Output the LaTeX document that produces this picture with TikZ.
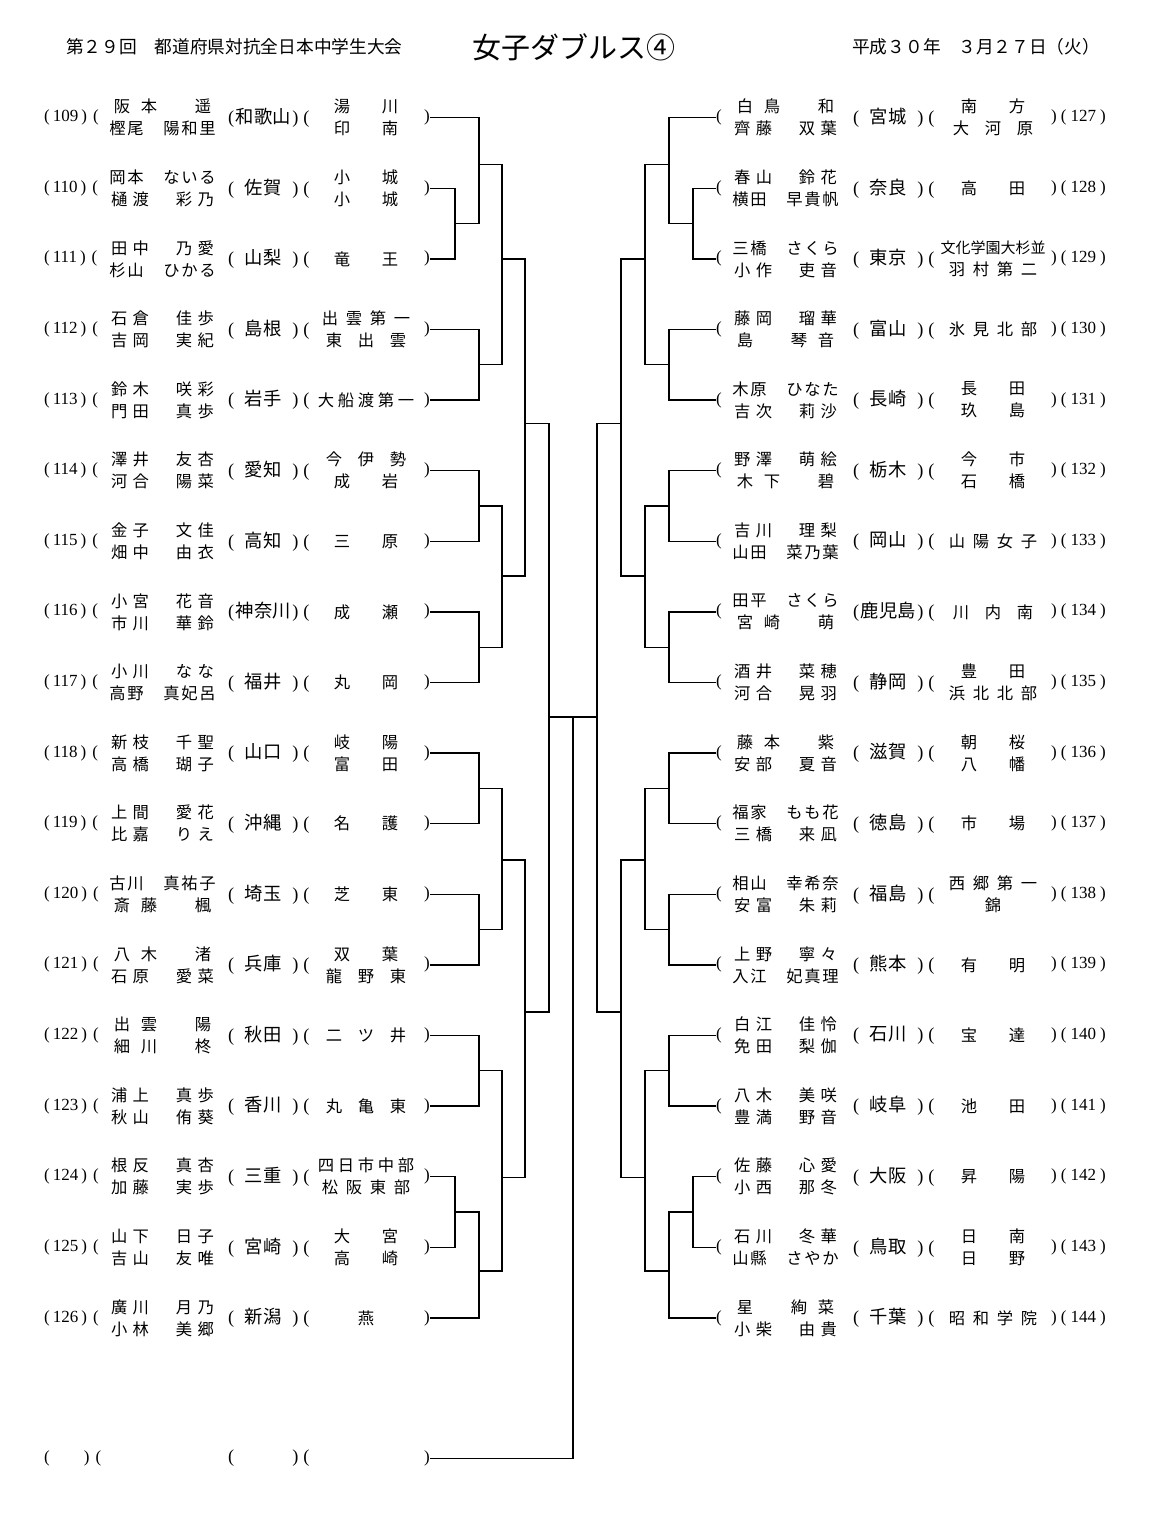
\documentclass[tikz,border=0pt]{standalone}
\usepackage{fontspec}
\usepackage{tikz}
\setmainfont{Liberation Serif}
\newfontfamily\jp{Noto Sans CJK JP}
\makeatletter
\newcommand{\kinto}[2]{\hbox to #1{\@tfor\kc:=#2\do{\hfil\kc\hfil}}}
\makeatother
\newcommand{\duo}[2]{\kinto{108pt}{#1}\\\kinto{108pt}{#2}}
\newcommand{\sch}[1]{\kinto{96pt}{#1}}
\newcommand{\schh}[2]{\kinto{96pt}{#1}\\\kinto{96pt}{#2}}
\newcommand{\ken}[1]{(\makebox[58pt]{\jp #1})\hspace{5pt}(}
\newcommand{\nol}[1]{(\hspace{3pt}#1\hspace{3pt})\hspace{6pt}(}
\newcommand{\nor}[1]{)\hspace{4pt}(\hspace{4pt}#1\hspace{4pt})}

\begin{document}
\begin{tikzpicture}[x=1pt, y=-1pt,
    num/.style={font=\fontsize{17}{17}\selectfont, inner sep=0pt, anchor=west},
    paren/.style={font=\fontsize{17}{17}\selectfont, inner sep=0pt},
    who/.style={font=\jp\fontsize{16.3}{22}\selectfont, align=center, inner sep=0pt},
    pref/.style={font=\fontsize{18.3}{18}\selectfont, inner sep=0pt},
    school/.style={font=\jp\fontsize{16.3}{22}\selectfont, align=center, inner sep=0pt},
    head/.style={font=\jp\fontsize{17.7}{18}\selectfont, inner sep=0pt, anchor=west},
    brk/.style={line width=1.3pt}]
  	\useasboundingbox (0,0) rectangle (1153,1538);
  	\draw (66,47) node[head] (hdr) {第２９回　都道府県対抗全日本中学生大会};
  	\draw (573.5,47) node[font=\jp\fontsize{29}{30}\selectfont, inner sep=0pt] (ttl) {女子ダブルス④};
  	\draw (852,47) node[head] (date) {平成３０年　３月２７日（火）};

  	\draw (44,117.7) node[num] (n109) {\nol{109}};
  	\draw (162.5,117.7) node[who] (w109) {\duo{阪本　遥}{樫尾　陽和里}};
  	\draw (268.8,117.7) node[pref] (f109) {\ken{和歌山}};
  	\draw (366,117.7) node[school] (s109) {\schh{湯川}{印南}};
  	\draw (427,117.7) node[paren] (c109) {)};

  	\draw (44,188.3) node[num] (n110) {\nol{110}};
  	\draw (162.5,188.3) node[who] (w110) {\duo{岡本　ないる}{樋渡　彩乃}};
  	\draw (268.8,188.3) node[pref] (f110) {\ken{佐賀}};
  	\draw (366,188.3) node[school] (s110) {\schh{小城}{小城}};
  	\draw (427,188.3) node[paren] (c110) {)};

  	\draw (44,258.9) node[num] (n111) {\nol{111}};
  	\draw (162.5,258.9) node[who] (w111) {\duo{田中　乃愛}{杉山　ひかる}};
  	\draw (268.8,258.9) node[pref] (f111) {\ken{山梨}};
  	\draw (366,258.9) node[school] (s111) {\sch{竜王}};
  	\draw (427,258.9) node[paren] (c111) {)};

  	\draw (44,329.5) node[num] (n112) {\nol{112}};
  	\draw (162.5,329.5) node[who] (w112) {\duo{石倉　佳歩}{吉岡　実紀}};
  	\draw (268.8,329.5) node[pref] (f112) {\ken{島根}};
  	\draw (366,329.5) node[school] (s112) {\schh{出雲第一}{東出雲}};
  	\draw (427,329.5) node[paren] (c112) {)};

  	\draw (44,400.1) node[num] (n113) {\nol{113}};
  	\draw (162.5,400.1) node[who] (w113) {\duo{鈴木　咲彩}{門田　真歩}};
  	\draw (268.8,400.1) node[pref] (f113) {\ken{岩手}};
  	\draw (366,400.1) node[school] (s113) {\kinto{100pt}{大船渡第一}};
  	\draw (427,400.1) node[paren] (c113) {)};

  	\draw (44,470.7) node[num] (n114) {\nol{114}};
  	\draw (162.5,470.7) node[who] (w114) {\duo{澤井　友杏}{河合　陽菜}};
  	\draw (268.8,470.7) node[pref] (f114) {\ken{愛知}};
  	\draw (366,470.7) node[school] (s114) {\schh{今伊勢}{成岩}};
  	\draw (427,470.7) node[paren] (c114) {)};

  	\draw (44,541.3) node[num] (n115) {\nol{115}};
  	\draw (162.5,541.3) node[who] (w115) {\duo{金子　文佳}{畑中　由衣}};
  	\draw (268.8,541.3) node[pref] (f115) {\ken{高知}};
  	\draw (366,541.3) node[school] (s115) {\sch{三原}};
  	\draw (427,541.3) node[paren] (c115) {)};

  	\draw (44,611.9) node[num] (n116) {\nol{116}};
  	\draw (162.5,611.9) node[who] (w116) {\duo{小宮　花音}{市川　華鈴}};
  	\draw (268.8,611.9) node[pref] (f116) {\ken{神奈川}};
  	\draw (366,611.9) node[school] (s116) {\sch{成瀬}};
  	\draw (427,611.9) node[paren] (c116) {)};

  	\draw (44,682.5) node[num] (n117) {\nol{117}};
  	\draw (162.5,682.5) node[who] (w117) {\duo{小川　なな}{高野　真妃呂}};
  	\draw (268.8,682.5) node[pref] (f117) {\ken{福井}};
  	\draw (366,682.5) node[school] (s117) {\sch{丸岡}};
  	\draw (427,682.5) node[paren] (c117) {)};

  	\draw (44,753.1) node[num] (n118) {\nol{118}};
  	\draw (162.5,753.1) node[who] (w118) {\duo{新枝　千聖}{高橋　瑚子}};
  	\draw (268.8,753.1) node[pref] (f118) {\ken{山口}};
  	\draw (366,753.1) node[school] (s118) {\schh{岐陽}{富田}};
  	\draw (427,753.1) node[paren] (c118) {)};

  	\draw (44,823.7) node[num] (n119) {\nol{119}};
  	\draw (162.5,823.7) node[who] (w119) {\duo{上間　愛花}{比嘉　りえ}};
  	\draw (268.8,823.7) node[pref] (f119) {\ken{沖縄}};
  	\draw (366,823.7) node[school] (s119) {\sch{名護}};
  	\draw (427,823.7) node[paren] (c119) {)};

  	\draw (44,894.3) node[num] (n120) {\nol{120}};
  	\draw (162.5,894.3) node[who] (w120) {\duo{古川　真祐子}{斎藤　楓}};
  	\draw (268.8,894.3) node[pref] (f120) {\ken{埼玉}};
  	\draw (366,894.3) node[school] (s120) {\sch{芝東}};
  	\draw (427,894.3) node[paren] (c120) {)};

  	\draw (44,964.9) node[num] (n121) {\nol{121}};
  	\draw (162.5,964.9) node[who] (w121) {\duo{八木　渚}{石原　愛菜}};
  	\draw (268.8,964.9) node[pref] (f121) {\ken{兵庫}};
  	\draw (366,964.9) node[school] (s121) {\schh{双葉}{龍野東}};
  	\draw (427,964.9) node[paren] (c121) {)};

  	\draw (44,1035.5) node[num] (n122) {\nol{122}};
  	\draw (162.5,1035.5) node[who] (w122) {\duo{出雲　陽}{細川　柊}};
  	\draw (268.8,1035.5) node[pref] (f122) {\ken{秋田}};
  	\draw (366,1035.5) node[school] (s122) {\sch{二ツ井}};
  	\draw (427,1035.5) node[paren] (c122) {)};

  	\draw (44,1106.1) node[num] (n123) {\nol{123}};
  	\draw (162.5,1106.1) node[who] (w123) {\duo{浦上　真歩}{秋山　侑葵}};
  	\draw (268.8,1106.1) node[pref] (f123) {\ken{香川}};
  	\draw (366,1106.1) node[school] (s123) {\sch{丸亀東}};
  	\draw (427,1106.1) node[paren] (c123) {)};

  	\draw (44,1176.7) node[num] (n124) {\nol{124}};
  	\draw (162.5,1176.7) node[who] (w124) {\duo{根反　真杏}{加藤　実歩}};
  	\draw (268.8,1176.7) node[pref] (f124) {\ken{三重}};
  	\draw (366,1176.7) node[school] (s124) {\kinto{100pt}{四日市中部}\\\sch{松阪東部}};
  	\draw (427,1176.7) node[paren] (c124) {)};

  	\draw (44,1247.3) node[num] (n125) {\nol{125}};
  	\draw (162.5,1247.3) node[who] (w125) {\duo{山下　日子}{吉山　友唯}};
  	\draw (268.8,1247.3) node[pref] (f125) {\ken{宮崎}};
  	\draw (366,1247.3) node[school] (s125) {\schh{大宮}{高崎}};
  	\draw (427,1247.3) node[paren] (c125) {)};

  	\draw (44,1317.9) node[num] (n126) {\nol{126}};
  	\draw (162.5,1317.9) node[who] (w126) {\duo{廣川　月乃}{小林　美郷}};
  	\draw (268.8,1317.9) node[pref] (f126) {\ken{新潟}};
  	\draw (366,1317.9) node[school] (s126) {\sch{燕}};
  	\draw (427,1317.9) node[paren] (c126) {)};

  	\draw (44,1458.3) node[num] (nbye) {(\hspace{34pt})\hspace{6pt}(};
  	\draw (268.8,1458.3) node[pref] (fbye) {\ken{}};
  	\draw (427,1458.3) node[paren] (cbye) {)};

  	\draw (719,117.7) node[paren] (o127) {(};
  	\draw (785.5,117.7) node[who] (w127) {\duo{白鳥　和}{齊藤　双葉}};
  	\draw (893.8,117.7) node[pref] (f127) {\ken{宮城}};
  	\draw (993,117.7) node[school] (s127) {\schh{南方}{大河原}};
  	\draw (1051,117.7) node[num] (n127) {\nor{127}};

  	\draw (719,188.3) node[paren] (o128) {(};
  	\draw (785.5,188.3) node[who] (w128) {\duo{春山　鈴花}{横田　早貴帆}};
  	\draw (893.8,188.3) node[pref] (f128) {\ken{奈良}};
  	\draw (993,188.3) node[school] (s128) {\sch{高田}};
  	\draw (1051,188.3) node[num] (n128) {\nor{128}};

  	\draw (719,258.9) node[paren] (o129) {(};
  	\draw (785.5,258.9) node[who] (w129) {\duo{三橋　さくら}{小作　吏音}};
  	\draw (893.8,258.9) node[pref] (f129) {\ken{東京}};
  	\draw (993,258.9) node[school] (s129) {{\fontsize{15}{22}\selectfont\kinto{105pt}{文化学園大杉並}}\\\sch{羽村第二}};
  	\draw (1051,258.9) node[num] (n129) {\nor{129}};

  	\draw (719,329.5) node[paren] (o130) {(};
  	\draw (785.5,329.5) node[who] (w130) {\duo{藤岡　瑠華}{島　琴音}};
  	\draw (893.8,329.5) node[pref] (f130) {\ken{富山}};
  	\draw (993,329.5) node[school] (s130) {\sch{氷見北部}};
  	\draw (1051,329.5) node[num] (n130) {\nor{130}};

  	\draw (719,400.1) node[paren] (o131) {(};
  	\draw (785.5,400.1) node[who] (w131) {\duo{木原　ひなた}{吉次　莉沙}};
  	\draw (893.8,400.1) node[pref] (f131) {\ken{長崎}};
  	\draw (993,400.1) node[school] (s131) {\schh{長田}{玖島}};
  	\draw (1051,400.1) node[num] (n131) {\nor{131}};

  	\draw (719,470.7) node[paren] (o132) {(};
  	\draw (785.5,470.7) node[who] (w132) {\duo{野澤　萌絵}{木下　碧}};
  	\draw (893.8,470.7) node[pref] (f132) {\ken{栃木}};
  	\draw (993,470.7) node[school] (s132) {\schh{今市}{石橋}};
  	\draw (1051,470.7) node[num] (n132) {\nor{132}};

  	\draw (719,541.3) node[paren] (o133) {(};
  	\draw (785.5,541.3) node[who] (w133) {\duo{吉川　理梨}{山田　菜乃葉}};
  	\draw (893.8,541.3) node[pref] (f133) {\ken{岡山}};
  	\draw (993,541.3) node[school] (s133) {\sch{山陽女子}};
  	\draw (1051,541.3) node[num] (n133) {\nor{133}};

  	\draw (719,611.9) node[paren] (o134) {(};
  	\draw (785.5,611.9) node[who] (w134) {\duo{田平　さくら}{宮崎　萌}};
  	\draw (893.8,611.9) node[pref] (f134) {\ken{鹿児島}};
  	\draw (993,611.9) node[school] (s134) {\sch{川内南}};
  	\draw (1051,611.9) node[num] (n134) {\nor{134}};

  	\draw (719,682.5) node[paren] (o135) {(};
  	\draw (785.5,682.5) node[who] (w135) {\duo{酒井　菜穂}{河合　晃羽}};
  	\draw (893.8,682.5) node[pref] (f135) {\ken{静岡}};
  	\draw (993,682.5) node[school] (s135) {\schh{豊田}{浜北北部}};
  	\draw (1051,682.5) node[num] (n135) {\nor{135}};

  	\draw (719,753.1) node[paren] (o136) {(};
  	\draw (785.5,753.1) node[who] (w136) {\duo{藤本　紫}{安部　夏音}};
  	\draw (893.8,753.1) node[pref] (f136) {\ken{滋賀}};
  	\draw (993,753.1) node[school] (s136) {\schh{朝桜}{八幡}};
  	\draw (1051,753.1) node[num] (n136) {\nor{136}};

  	\draw (719,823.7) node[paren] (o137) {(};
  	\draw (785.5,823.7) node[who] (w137) {\duo{福家　もも花}{三橋　来凪}};
  	\draw (893.8,823.7) node[pref] (f137) {\ken{徳島}};
  	\draw (993,823.7) node[school] (s137) {\sch{市場}};
  	\draw (1051,823.7) node[num] (n137) {\nor{137}};

  	\draw (719,894.3) node[paren] (o138) {(};
  	\draw (785.5,894.3) node[who] (w138) {\duo{相山　幸希奈}{安富　朱莉}};
  	\draw (893.8,894.3) node[pref] (f138) {\ken{福島}};
  	\draw (993,894.3) node[school] (s138) {\schh{西郷第一}{錦}};
  	\draw (1051,894.3) node[num] (n138) {\nor{138}};

  	\draw (719,964.9) node[paren] (o139) {(};
  	\draw (785.5,964.9) node[who] (w139) {\duo{上野　寧々}{入江　妃真理}};
  	\draw (893.8,964.9) node[pref] (f139) {\ken{熊本}};
  	\draw (993,964.9) node[school] (s139) {\sch{有明}};
  	\draw (1051,964.9) node[num] (n139) {\nor{139}};

  	\draw (719,1035.5) node[paren] (o140) {(};
  	\draw (785.5,1035.5) node[who] (w140) {\duo{白江　佳怜}{免田　梨伽}};
  	\draw (893.8,1035.5) node[pref] (f140) {\ken{石川}};
  	\draw (993,1035.5) node[school] (s140) {\sch{宝達}};
  	\draw (1051,1035.5) node[num] (n140) {\nor{140}};

  	\draw (719,1106.1) node[paren] (o141) {(};
  	\draw (785.5,1106.1) node[who] (w141) {\duo{八木　美咲}{豊満　野音}};
  	\draw (893.8,1106.1) node[pref] (f141) {\ken{岐阜}};
  	\draw (993,1106.1) node[school] (s141) {\sch{池田}};
  	\draw (1051,1106.1) node[num] (n141) {\nor{141}};

  	\draw (719,1176.7) node[paren] (o142) {(};
  	\draw (785.5,1176.7) node[who] (w142) {\duo{佐藤　心愛}{小西　那冬}};
  	\draw (893.8,1176.7) node[pref] (f142) {\ken{大阪}};
  	\draw (993,1176.7) node[school] (s142) {\sch{昇陽}};
  	\draw (1051,1176.7) node[num] (n142) {\nor{142}};

  	\draw (719,1247.3) node[paren] (o143) {(};
  	\draw (785.5,1247.3) node[who] (w143) {\duo{石川　冬華}{山縣　さやか}};
  	\draw (893.8,1247.3) node[pref] (f143) {\ken{鳥取}};
  	\draw (993,1247.3) node[school] (s143) {\schh{日南}{日野}};
  	\draw (1051,1247.3) node[num] (n143) {\nor{143}};

  	\draw (719,1317.9) node[paren] (o144) {(};
  	\draw (785.5,1317.9) node[who] (w144) {\duo{星　絢菜}{小柴　由貴}};
  	\draw (893.8,1317.9) node[pref] (f144) {\ken{千葉}};
  	\draw (993,1317.9) node[school] (s144) {\sch{昭和学院}};
  	\draw (1051,1317.9) node[num] (n144) {\nor{144}};

  	\coordinate (l0a) at (455,223.6);
  	\coordinate (l1a) at (479,164.3);
  	\coordinate (l1b) at (479,364.8);
  	\coordinate (l1c) at (479,506);
  	\coordinate (l1d) at (479,647.2);
  	\coordinate (l1e) at (479,788.4);
  	\coordinate (l1f) at (479,929.6);
  	\coordinate (l1g) at (479,1070.8);
  	\coordinate (l0b) at (455,1212);
  	\coordinate (l1h) at (479,1271);
  	\coordinate (l2a) at (502,258.9);
  	\coordinate (l2b) at (502,576);
  	\coordinate (l2c) at (502,860);
  	\coordinate (l2d) at (502,1177.7);
  	\coordinate (l3a) at (525,423.3);
  	\coordinate (l3b) at (525,1012);
  	\coordinate (l4) at (549,717);
  	\coordinate (r0a) at (693,223.6);
  	\coordinate (r1a) at (669,164.3);
  	\coordinate (r1b) at (669,364.8);
  	\coordinate (r1c) at (669,506);
  	\coordinate (r1d) at (669,647.2);
  	\coordinate (r1e) at (669,788.4);
  	\coordinate (r1f) at (669,929.6);
  	\coordinate (r1g) at (669,1070.8);
  	\coordinate (r0b) at (693,1212);
  	\coordinate (r1h) at (669,1271);
  	\coordinate (r2a) at (645,258.9);
  	\coordinate (r2b) at (645,576);
  	\coordinate (r2c) at (645,860);
  	\coordinate (r2d) at (645,1177.7);
  	\coordinate (r3a) at (621,423.3);
  	\coordinate (r3b) at (621,1012);
  	\coordinate (r4) at (597,717);
  	\coordinate (fin) at (573,717);

  	\draw[brk] (c110.east) -| (l0a) |- (c111.east);
  	\draw[brk] (c109.east) -| (l1a) |- (l0a);
  	\draw[brk] (c112.east) -| (l1b) |- (c113.east);
  	\draw[brk] (c114.east) -| (l1c) |- (c115.east);
  	\draw[brk] (c116.east) -| (l1d) |- (c117.east);
  	\draw[brk] (c118.east) -| (l1e) |- (c119.east);
  	\draw[brk] (c120.east) -| (l1f) |- (c121.east);
  	\draw[brk] (c122.east) -| (l1g) |- (c123.east);
  	\draw[brk] (c124.east) -| (l0b) |- (c125.east);
  	\draw[brk] (l0b) -| (l1h) |- (c126.east);
  	\draw[brk] (l1a) -| (l2a) |- (l1b);
  	\draw[brk] (l1c) -| (l2b) |- (l1d);
  	\draw[brk] (l1e) -| (l2c) |- (l1f);
  	\draw[brk] (l1g) -| (l2d) |- (l1h);
  	\draw[brk] (l2a) -| (l3a) |- (l2b);
  	\draw[brk] (l2c) -| (l3b) |- (l2d);
  	\draw[brk] (l3a) -| (l4) |- (l3b);

  	\draw[brk] (o128.west) -| (r0a) |- (o129.west);
  	\draw[brk] (o127.west) -| (r1a) |- (r0a);
  	\draw[brk] (o130.west) -| (r1b) |- (o131.west);
  	\draw[brk] (o132.west) -| (r1c) |- (o133.west);
  	\draw[brk] (o134.west) -| (r1d) |- (o135.west);
  	\draw[brk] (o136.west) -| (r1e) |- (o137.west);
  	\draw[brk] (o138.west) -| (r1f) |- (o139.west);
  	\draw[brk] (o140.west) -| (r1g) |- (o141.west);
  	\draw[brk] (o142.west) -| (r0b) |- (o143.west);
  	\draw[brk] (r0b) -| (r1h) |- (o144.west);
  	\draw[brk] (r1a) -| (r2a) |- (r1b);
  	\draw[brk] (r1c) -| (r2b) |- (r1d);
  	\draw[brk] (r1e) -| (r2c) |- (r1f);
  	\draw[brk] (r1g) -| (r2d) |- (r1h);
  	\draw[brk] (r2a) -| (r3a) |- (r2b);
  	\draw[brk] (r2c) -| (r3b) |- (r2d);
  	\draw[brk] (r3a) -| (r4) |- (r3b);

  	\draw[brk] (l4) -- (r4);
  	\draw[brk] (cbye.east) -| (fin);
\end{tikzpicture}
\end{document}
